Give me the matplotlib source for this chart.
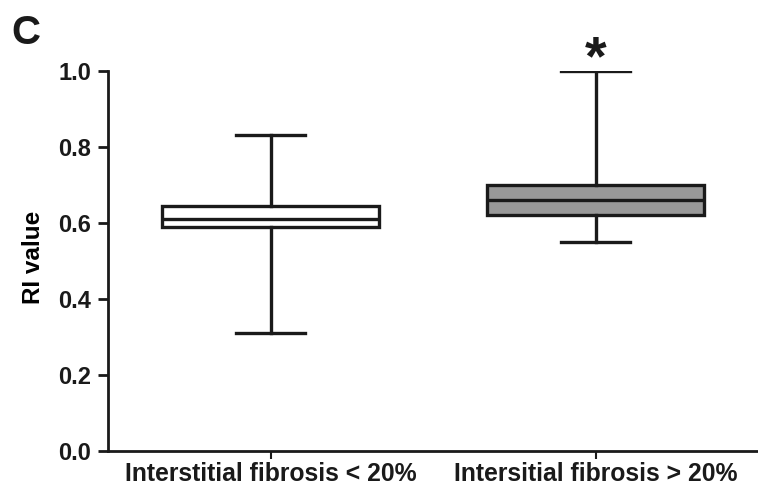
import matplotlib
matplotlib.use("Agg")
import matplotlib.pyplot as plt

plt.rcParams['font.family'] = ['Liberation Sans', 'DejaVu Sans']
plt.rcParams['font.weight'] = 'bold'

# Summary statistics of RI values per group
groups = ["Interstitial fibrosis < 20%", "Intersitial fibrosis > 20%"]
whisker_low = [0.31, 0.55]
q1 = [0.59, 0.62]
median = [0.61, 0.66]
q3 = [0.645, 0.70]
whisker_high = [0.83, 1.00]
fills = ["white", "#999999"]
yticks = [0.0, 0.2, 0.4, 0.6, 0.8, 1.0]

fig = plt.figure(figsize=(7.58, 4.87), dpi=100)
ax = fig.add_axes([0.1425, 0.074, 0.8575, 0.7805])

stats = [dict(whislo=whisker_low[i], q1=q1[i], med=median[i], q3=q3[i],
              whishi=whisker_high[i], fliers=[], label=groups[i])
         for i in range(len(groups))]

ink = "#1a1a1a"
lw = 2.4
bp = ax.bxp(stats, positions=[1, 2], widths=0.67, patch_artist=True,
            showfliers=False, capwidths=0.21,
            boxprops=dict(linewidth=lw, edgecolor=ink),
            medianprops=dict(linewidth=lw, color=ink),
            whiskerprops=dict(linewidth=lw, color=ink),
            capprops=dict(linewidth=lw, color=ink))
for patch, c in zip(bp['boxes'], fills):
    patch.set_facecolor(c)

ax.set_xlim(0.5, 2.5)
ax.set_ylim(0, 1.0)
ax.set_yticks(yticks)
ax.set_yticklabels([f"{v:.1f}" for v in yticks], fontsize=17, fontweight='bold')
ax.set_xticks([1, 2])
ax.set_xticklabels(groups, fontsize=17.8, fontweight='bold')
ax.set_ylabel("RI value", fontsize=17.5, fontweight='bold')
ax.yaxis.set_label_coords(-0.097, 0.509)

for side in ("top", "right"):
    ax.spines[side].set_visible(False)
for side in ("left", "bottom"):
    ax.spines[side].set_linewidth(2.0)
    ax.spines[side].set_color(ink)
ax.tick_params(axis='y', length=7, width=2.0, pad=5, colors=ink)
ax.tick_params(axis='x', length=6, width=1.5, pad=2, colors=ink)

# Significance marker above the second group
ax.text(2, 0.99, "*", ha='center', va='baseline', fontsize=40, fontweight='bold',
        color=ink, clip_on=False)

fig.text(0.015, 0.972, "C", fontsize=29, fontweight='bold', va='top', ha='left',
         color=ink)

fig.savefig("out.png", dpi=100)
